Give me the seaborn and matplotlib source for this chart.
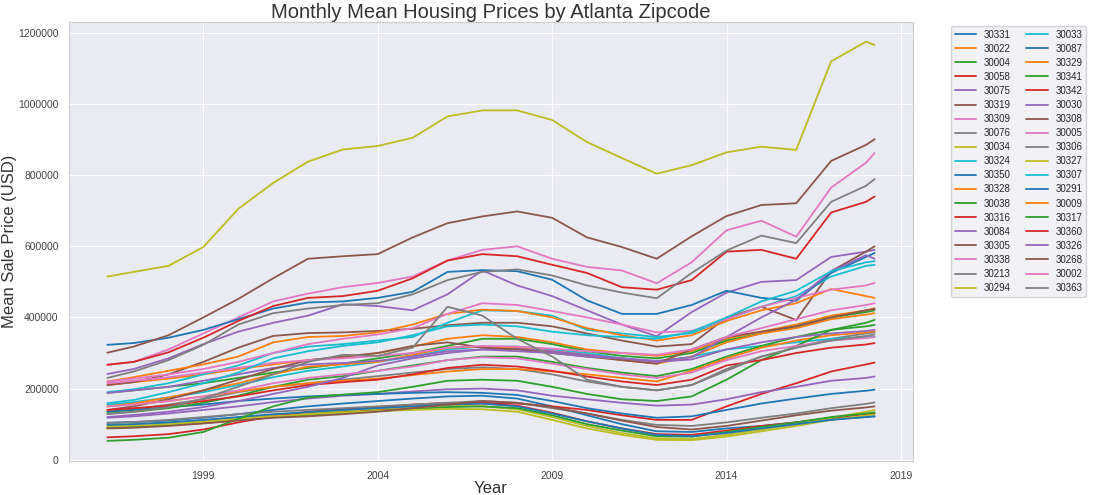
import pandas as pd
import matplotlib
matplotlib.use("Agg")
import matplotlib.pyplot as plt
import matplotlib.dates as mdates
import seaborn as sns

# sample dates: April 1996, then every January, then April 2018
dates = ["1996-04-01"] + [f"{y}-01-01" for y in range(1997, 2019)] + ["2018-04-01"]

# mean sale prices in thousands of USD
z30331 = [104, 106, 110, 118, 128, 140, 150, 158, 165, 172, 178, 180, 172, 150, 125, 100, 80, 78, 88, 95, 105, 115, 120, 122]
z30022 = [210, 218, 228, 240, 255, 268, 280, 288, 300, 318, 340, 350, 345, 330, 310, 300, 292, 305, 340, 360, 380, 405, 420, 426]
z30004 = [188, 195, 205, 215, 230, 245, 258, 270, 285, 300, 320, 340, 340, 325, 305, 292, 285, 300, 335, 355, 375, 400, 415, 420]
z30058 = [89, 92, 97, 103, 112, 120, 128, 134, 140, 148, 155, 158, 152, 132, 108, 88, 72, 70, 82, 95, 105, 118, 128, 131]
z30075 = [241, 255, 285, 325, 360, 385, 405, 437, 432, 420, 465, 532, 490, 460, 420, 380, 347, 415, 470, 500, 505, 570, 585, 590]
z30319 = [210, 218, 240, 275, 315, 348, 356, 358, 362, 368, 378, 385, 385, 375, 355, 335, 318, 325, 400, 430, 393, 530, 585, 600]
z30309 = [267, 275, 310, 355, 400, 445, 467, 485, 497, 515, 560, 590, 600, 565, 542, 532, 496, 555, 645, 672, 627, 765, 835, 862]
z30076 = [135, 142, 155, 170, 190, 205, 215, 225, 235, 245, 255, 260, 255, 240, 220, 205, 195, 210, 250, 290, 315, 340, 355, 358]
z30034 = [97, 100, 104, 110, 118, 125, 132, 138, 143, 148, 152, 150, 142, 120, 95, 75, 60, 58, 70, 85, 100, 118, 135, 140]
z30324 = [190, 198, 215, 240, 265, 300, 318, 325, 335, 345, 385, 420, 418, 405, 365, 355, 345, 356, 395, 430, 460, 515, 545, 548]
z30350 = [323, 328, 343, 365, 395, 425, 442, 445, 455, 472, 528, 533, 530, 506, 448, 410, 410, 435, 475, 455, 447, 525, 570, 581]
z30328 = [220, 232, 250, 268, 290, 330, 345, 348, 358, 380, 410, 422, 418, 400, 370, 350, 335, 350, 390, 420, 440, 480, 460, 455]
z30038 = [90, 93, 98, 104, 112, 120, 126, 132, 137, 142, 148, 150, 145, 125, 100, 82, 66, 65, 78, 92, 105, 120, 130, 133]
z30316 = [63, 66, 72, 85, 105, 122, 135, 142, 148, 155, 160, 160, 158, 150, 140, 125, 112, 112, 150, 185, 215, 248, 268, 273]
z30084 = [118, 122, 130, 140, 150, 162, 172, 180, 185, 192, 198, 200, 195, 180, 170, 160, 152, 155, 170, 190, 205, 222, 230, 234]
z30305 = [301, 318, 350, 400, 452, 510, 565, 572, 578, 625, 665, 684, 698, 680, 625, 598, 565, 628, 685, 716, 721, 840, 885, 901]
z30338 = [220, 228, 240, 255, 275, 300, 325, 340, 352, 370, 410, 440, 435, 418, 400, 380, 358, 362, 395, 430, 455, 478, 490, 497]
z30213 = [103, 106, 112, 120, 128, 135, 140, 145, 150, 155, 160, 165, 160, 145, 130, 112, 98, 95, 105, 118, 130, 145, 157, 161]
z30294 = [93, 96, 100, 106, 114, 122, 128, 133, 137, 140, 143, 142, 135, 112, 88, 70, 56, 55, 65, 80, 95, 112, 124, 127]
z30033 = [155, 162, 175, 190, 210, 232, 250, 262, 275, 290, 310, 318, 318, 310, 300, 285, 275, 290, 310, 320, 330, 340, 345, 346]
z30087 = [135, 140, 148, 155, 165, 172, 178, 182, 185, 188, 190, 188, 182, 165, 145, 130, 118, 122, 140, 158, 172, 185, 194, 197]
z30329 = [150, 158, 175, 195, 215, 240, 262, 268, 275, 295, 315, 318, 315, 305, 295, 280, 270, 290, 330, 355, 370, 395, 408, 412]
z30341 = [130, 135, 145, 160, 180, 205, 225, 235, 250, 265, 280, 290, 290, 275, 258, 245, 235, 255, 290, 320, 345, 365, 375, 379]
z30342 = [267, 275, 302, 343, 390, 432, 455, 460, 475, 510, 560, 578, 572, 548, 525, 485, 478, 505, 585, 590, 565, 695, 725, 740]
z30030 = [188, 195, 205, 222, 240, 258, 268, 272, 278, 290, 305, 310, 312, 305, 295, 285, 278, 288, 345, 400, 450, 530, 575, 565]
z30308 = [140, 150, 170, 195, 225, 255, 280, 290, 300, 320, 330, 315, 310, 300, 290, 280, 270, 310, 345, 360, 375, 400, 420, 424]
z30005 = [215, 222, 232, 245, 258, 272, 280, 285, 292, 300, 315, 320, 318, 312, 305, 300, 295, 310, 345, 370, 395, 420, 435, 440]
z30306 = [230, 248, 280, 323, 380, 412, 425, 435, 440, 465, 505, 528, 535, 518, 490, 470, 454, 525, 588, 630, 609, 725, 770, 789]
z30327 = [515, 528, 545, 598, 705, 778, 838, 872, 882, 905, 965, 982, 982, 955, 893, 848, 804, 828, 864, 880, 871, 1120, 1175, 1166]
z30307 = [159, 168, 190, 215, 245, 285, 305, 320, 330, 350, 375, 380, 375, 360, 350, 345, 340, 360, 400, 445, 475, 530, 555, 558]
z30291 = [98, 100, 105, 112, 120, 128, 134, 140, 145, 150, 155, 158, 150, 130, 108, 88, 70, 66, 75, 88, 100, 112, 120, 122]
z30009 = [150, 156, 165, 178, 192, 205, 215, 222, 228, 238, 248, 255, 255, 248, 240, 230, 220, 250, 285, 315, 335, 350, 358, 361]
z30317 = [53, 56, 62, 78, 115, 150, 175, 183, 190, 205, 222, 225, 222, 205, 185, 170, 165, 178, 225, 280, 320, 365, 385, 393]
z30360 = [140, 145, 152, 165, 178, 195, 210, 218, 225, 240, 258, 267, 262, 250, 234, 220, 210, 225, 265, 280, 300, 315, 324, 328]
z30326 = [120, 126, 135, 148, 165, 185, 205, 230, 265, 285, 300, 310, 305, 300, 290, 285, 275, 282, 310, 330, 345, 355, 362, 365]
z30268 = [88, 90, 95, 102, 110, 118, 122, 128, 135, 145, 155, 165, 160, 148, 130, 110, 92, 85, 95, 110, 125, 138, 147, 150]
z30002 = [150, 155, 165, 178, 195, 215, 230, 240, 250, 262, 280, 288, 285, 270, 255, 240, 230, 245, 280, 305, 320, 335, 342, 345]
z30363 = [128, 135, 148, 172, 205, 240, 275, 295, 292, 315, 430, 405, 340, 290, 225, 205, 195, 210, 255, 290, 315, 335, 348, 352]

zips = ["30331", "30022", "30004", "30058", "30075", "30319", "30309", "30076",
        "30034", "30324", "30350", "30328", "30038", "30316", "30084", "30305",
        "30338", "30213", "30294", "30033", "30087", "30329", "30341", "30342",
        "30030", "30308", "30005", "30306", "30327", "30307", "30291", "30009",
        "30317", "30360", "30326", "30268", "30002", "30363"]
series = [z30331, z30022, z30004, z30058, z30075, z30319, z30309, z30076,
          z30034, z30324, z30350, z30328, z30038, z30316, z30084, z30305,
          z30338, z30213, z30294, z30033, z30087, z30329, z30341, z30342,
          z30030, z30308, z30005, z30306, z30327, z30307, z30291, z30009,
          z30317, z30360, z30326, z30268, z30002, z30363]

# long-form table for seaborn
rows = []
for zc, vals in zip(zips, series):
    for d, v in zip(dates, vals):
        rows.append({"date": pd.Timestamp(d), "price": v * 1000, "zip": zc})
df = pd.DataFrame(rows)

sns.set_style("darkgrid")
plt.rcParams["font.family"] = ["Liberation Sans", "DejaVu Sans"]

fig, ax = plt.subplots(figsize=(10.96, 4.95), dpi=100)
fig.subplots_adjust(left=0.063, right=0.833, top=0.956, bottom=0.069)

sns.lineplot(data=df, x="date", y="price", hue="zip", hue_order=zips,
             palette=sns.color_palette("tab10", len(zips)), linewidth=1.3, ax=ax)

ax.set_title("Monthly Mean Housing Prices by Atlanta Zipcode", fontsize=14.5,
             color="#333333", pad=3)
ax.set_xlabel("Year", fontsize=12, color="#333333", labelpad=0)
ax.set_ylabel("Mean Sale Price (USD)", fontsize=12, color="#333333", labelpad=1)

ax.set_xticks([pd.Timestamp(f"{y}-01-01") for y in [1999, 2004, 2009, 2014, 2019]])
ax.xaxis.set_major_formatter(mdates.DateFormatter("%Y"))
ax.set_yticks(range(0, 1200001, 200000))
ax.ticklabel_format(axis="y", style="plain")
ax.tick_params(labelsize=7.5, colors="#444444", pad=4)
for s in ax.spines.values():
    s.set_visible(True)
    s.set_color("#cccccc")

handles, labels = ax.get_legend_handles_labels()
leg = ax.legend(handles, labels, ncol=2, bbox_to_anchor=(1.04, 1), loc="upper left",
                fontsize=7, frameon=True, facecolor="#eeeef4", edgecolor="#cccccc",
                columnspacing=1.6, labelspacing=0.42, handlelength=2.2,
                borderpad=0.4, borderaxespad=0.4)

fig.savefig("out.png", dpi=100)
